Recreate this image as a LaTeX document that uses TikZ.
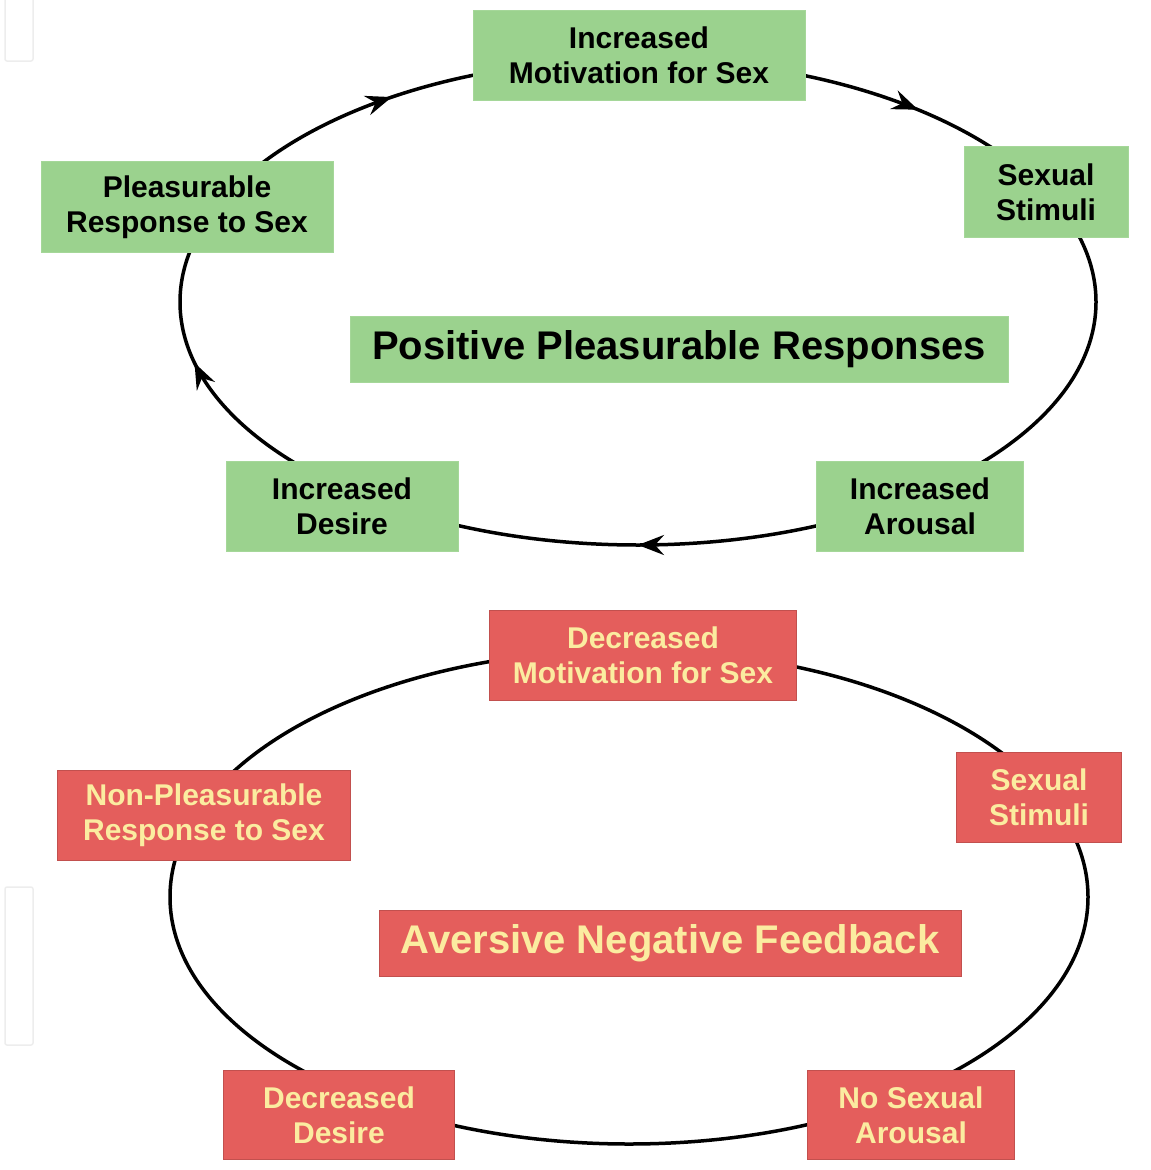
\documentclass[tikz,border=0pt]{standalone}
\usepackage{fontspec}
\setmainfont{Liberation Sans}
\usetikzlibrary{arrows.meta,decorations.markings}
\definecolor{boxgreen}{RGB}{155,210,142}
\definecolor{boxred}{RGB}{228,94,92}
\definecolor{textyellow}{RGB}{251,236,160}
\tikzset{
	cyclebox/.style={rectangle, inner sep=0pt, align=center, font=\fontsize{30}{35}\selectfont\bfseries},
	greenbox/.style={cyclebox, fill=boxgreen, draw=boxgreen!90!white, line width=1pt, text=black},
	redbox/.style={cyclebox, fill=boxred, draw=boxred!85!black, line width=1pt, text=textyellow},
	titlebox/.style={font=\fontsize{40}{46}\selectfont\bfseries, minimum height=66pt},
	cycleline/.style={line width=3.5pt},
	cycletip/.style={decoration={markings,
		mark=at position 0.25 with {\arrow{Stealth[length=26pt,width=20pt,inset=9pt]}},
		mark=at position 0.472 with {\arrow{Stealth[length=26pt,width=20pt,inset=9pt]}},
		mark=at position 0.639 with {\arrow{Stealth[length=26pt,width=20pt,inset=9pt]}},
		mark=at position 0.877 with {\arrow{Stealth[length=26pt,width=20pt,inset=9pt]}}},
		postaction={decorate}}
}
\begin{document}
\begin{tikzpicture}[x=1pt,y=-1pt]
	\useasboundingbox (0,0) rectangle (1151,1170);
	% faint frames at the left edge
	\draw[black!7, line width=1.5pt, rounded corners=2pt] (5,-4) rectangle (33,61);
	\draw[black!7, line width=1.5pt, rounded corners=2pt] (5,887) rectangle (33,1045);

	% positive cycle
	\coordinate (pos) at (638,302);
	\draw[cycleline, cycletip] (pos) ellipse [x radius=458, y radius=243];
	\node[greenbox, minimum width=332pt, minimum height=90pt] (motiv) at (639,55) {Increased\\Motivation for Sex};
	\node[greenbox, minimum width=164pt, minimum height=91pt] (stimuli) at (1046,192) {Sexual\\Stimuli};
	\node[greenbox, minimum width=292pt, minimum height=91pt] (pleasure) at (187,207) {Pleasurable\\Response to Sex};
	\node[greenbox, titlebox, minimum width=658pt] (postitle) at (679,349) {Positive Pleasurable Responses};
	\node[greenbox, minimum width=232pt, minimum height=90pt] (desire) at (342,506) {Increased\\Desire};
	\node[greenbox, minimum width=207pt, minimum height=90pt] (arousal) at (920,506) {Increased\\Arousal};

	% negative cycle
	\coordinate (neg) at (629,897);
	\draw[cycleline] (neg) ellipse [x radius=459, y radius=247];
	\node[redbox, minimum width=307pt, minimum height=90pt] (dmotiv) at (643,655) {Decreased\\Motivation for Sex};
	\node[redbox, minimum width=165pt, minimum height=90pt] (dstimuli) at (1039,797) {Sexual\\Stimuli};
	\node[redbox, minimum width=293pt, minimum height=90pt] (nonpleasure) at (204,815) {Non-Pleasurable\\Response to Sex};
	\node[redbox, titlebox, minimum width=582pt] (negtitle) at (670,943) {Aversive Negative Feedback};
	\node[redbox, minimum width=231pt, minimum height=89pt] (ddesire) at (339,1115) {Decreased\\Desire};
	\node[redbox, minimum width=207pt, minimum height=89pt] (noarousal) at (911,1115) {No Sexual\\Arousal};
\end{tikzpicture}
\end{document}
